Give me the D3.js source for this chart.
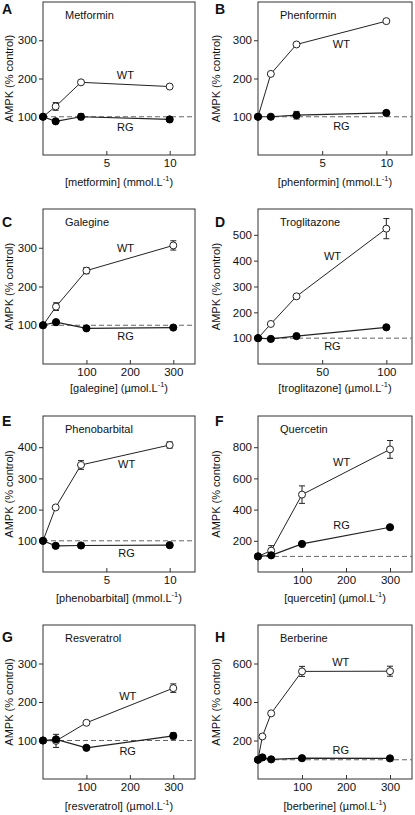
<!DOCTYPE html>
<html><head><meta charset="utf-8">
<script src="https://cdn.jsdelivr.net/npm/d3@7"></script>
<style>
body{margin:0;background:#fff}
svg{display:block}
text{font-family:"Liberation Sans",Arial,sans-serif;fill:#111}
</style>
</head><body>
<svg id="c" width="415" height="815"></svg>
<script>
// ---- data ----
const panelLetters = ["A","B","C","D","E","F","G","H"];
const drugNames = ["Metformin","Phenformin","Galegine","Troglitazone","Phenobarbital","Quercetin","Resveratrol","Berberine"];
const axisDrugs = ["metformin","phenformin","galegine","troglitazone","phenobarbital","quercetin","resveratrol","berberine"];
const doseUnits = ["mmol","mmol","µmol","µmol","mmol","µmol","µmol","µmol"];
const xMax = [12,12,350,120,12,350,350,350];
const yMax = [400,400,400,600,500,1000,400,800];
const xTickValues = [[5,10],[5,10],[100,200,300],[50,100],[5,10],[100,200,300],[100,200,300],[100,200,300]];
const yTickValues = [[100,200,300],[100,200,300],[100,200,300],[100,200,300,400,500],[100,200,300,400],[200,400,600,800],[100,200,300],[200,400,600]];

const metforminDose = [0,1,3,10];
const metforminWT = [100,127,190,179];
const metforminWTErr = [0,10,0,0];
const metforminRG = [100,88,100,93];
const metforminRGErr = [0,0,8,0];

const phenforminDose = [0,1,3,10];
const phenforminWT = [100,212,289,350];
const phenforminWTErr = [0,0,0,0];
const phenforminRG = [100,100,104,110];
const phenforminRGErr = [0,0,10,0];

const galegineDose = [0,30,100,300];
const galegineWT = [100,148,241,306];
const galegineWTErr = [0,10,8,12];
const galegineRG = [100,108,92,94];
const galegineRGErr = [0,0,0,0];

const troglitazoneDose = [0,10,30,100];
const troglitazoneWT = [100,155,262,524];
const troglitazoneWTErr = [0,0,0,39];
const troglitazoneRG = [100,97,108,142];
const troglitazoneRGErr = [0,0,0,0];

const phenobarbitalDose = [0,1,3,10];
const phenobarbitalWT = [100,207,343,407];
const phenobarbitalWTErr = [0,0,14,10];
const phenobarbitalRG = [100,84,85,86];
const phenobarbitalRGErr = [0,0,7,0];

const quercetinDose = [0,30,100,300];
const quercetinWT = [100,137,496,786];
const quercetinWTErr = [0,32,56,57];
const quercetinRG = [100,107,180,287];
const quercetinRGErr = [0,0,0,0];

const resveratrolDose = [0,30,100,300];
const resveratrolWT = [100,99,146,236];
const resveratrolWTErr = [0,17,0,11];
const resveratrolRG = [100,103,81,112];
const resveratrolRGErr = [0,0,0,8];

const berberineDose = [0,10,30,100,300];
const berberineWT = [100,221,341,559,560];
const berberineWTErr = [0,0,0,26,26];
const berberineRG = [100,112,102,108,107];
const berberineRGErr = [0,0,0,0,0];

// label anchors in data units [x, y]
const wtLabelAt = [[6.5,205],[6.5,288],[190,297],[58,415],[6.6,343],[190,700],[195,214],[188,603]];
const rgLabelAt = [[6.5,71],[6.5,74],[190,70],[58,66],[6.6,58],[190,295],[195,70],[188,145]];

const panels = [
  {dose:metforminDose, wt:metforminWT, wtErr:metforminWTErr, rg:metforminRG, rgErr:metforminRGErr},
  {dose:phenforminDose, wt:phenforminWT, wtErr:phenforminWTErr, rg:phenforminRG, rgErr:phenforminRGErr},
  {dose:galegineDose, wt:galegineWT, wtErr:galegineWTErr, rg:galegineRG, rgErr:galegineRGErr},
  {dose:troglitazoneDose, wt:troglitazoneWT, wtErr:troglitazoneWTErr, rg:troglitazoneRG, rgErr:troglitazoneRGErr},
  {dose:phenobarbitalDose, wt:phenobarbitalWT, wtErr:phenobarbitalWTErr, rg:phenobarbitalRG, rgErr:phenobarbitalRGErr},
  {dose:quercetinDose, wt:quercetinWT, wtErr:quercetinWTErr, rg:quercetinRG, rgErr:quercetinRGErr},
  {dose:resveratrolDose, wt:resveratrolWT, wtErr:resveratrolWTErr, rg:resveratrolRG, rgErr:resveratrolRGErr},
  {dose:berberineDose, wt:berberineWT, wtErr:berberineWTErr, rg:berberineRG, rgErr:berberineRGErr}
];

// ---- layout ----
const colLeft = [43, 258];
const colWidth = [152, 154];
const yLabelX = [10, 217];
const letterX = [2, 215];
const rowTop = [2, 209, 416, 625];
const rowBottom = [155, 364, 572, 779];
const xLabelOffset = [28, 25, 27, 28];
const letterOffset = [12, 18, 10, 17];

const svg = d3.select("#c");
const ink = "#222";

panels.forEach((p, i) => {
  const col = i % 2, row = Math.floor(i / 2);
  const L = colLeft[col], R = L + colWidth[col], T = rowTop[row], B = rowBottom[row];
  const x = d3.scaleLinear().domain([0, xMax[i]]).range([L, R]);
  const y = d3.scaleLinear().domain([0, yMax[i]]).range([B, T]);
  const g = svg.append("g");

  // frame
  g.append("rect").attr("x", L).attr("y", T).attr("width", R - L).attr("height", B - T)
    .attr("fill", "none").attr("stroke", "#333").attr("stroke-width", 1);

  // y axis
  const ya = g.append("g").attr("transform", `translate(${L},0)`)
    .call(d3.axisLeft(y).tickValues(yTickValues[i]).tickSize(4).tickPadding(2));
  ya.select(".domain").remove();
  ya.selectAll("line").attr("stroke", "#333");
  ya.selectAll("text").attr("font-size", 11.5).attr("fill", "#111")
    .attr("font-family", "Liberation Sans, Arial, sans-serif");

  // x axis (ticks pointing inward)
  const xa = g.append("g").attr("transform", `translate(0,${B})`)
    .call(d3.axisBottom(x).tickValues(xTickValues[i]).tickSizeInner(-4).tickSizeOuter(0).tickPadding(4));
  xa.select(".domain").remove();
  xa.selectAll("line").attr("stroke", "#333");
  xa.selectAll("text").attr("font-size", 11.5).attr("fill", "#111")
    .attr("font-family", "Liberation Sans, Arial, sans-serif");

  // x label with superscript
  const xl = g.append("text").attr("x", (L + R) / 2).attr("y", B + xLabelOffset[row])
    .attr("text-anchor", "middle").attr("dominant-baseline", "middle").attr("font-size", 11);
  xl.append("tspan").text(`[${axisDrugs[i]}] (${doseUnits[i]}.L`);
  xl.append("tspan").text("-1").attr("font-size", 7.5).attr("dy", -4);
  xl.append("tspan").text(")").attr("dy", 4);

  // y label
  g.append("text").attr("transform", `translate(${yLabelX[col]},${(T + B) / 2}) rotate(-90)`)
    .attr("text-anchor", "middle").attr("dominant-baseline", "middle").attr("font-size", 11)
    .text("AMPK (% control)");

  // panel letter
  g.append("text").attr("x", letterX[col]).attr("y", T + letterOffset[row])
    .attr("font-size", 14).attr("font-weight", "bold").text(panelLetters[i]);

  // title
  g.append("text").attr("x", L + 22).attr("y", T + 14).attr("dominant-baseline", "middle")
    .attr("font-size", 11).text(drugNames[i]);

  // dashed 100% line
  g.append("line").attr("x1", x(0)).attr("x2", x(xMax[i])).attr("y1", y(100)).attr("y2", y(100))
    .attr("stroke", "#666").attr("stroke-width", 1).attr("stroke-dasharray", "5,3");

  const line = d3.line().x(d => x(d[0])).y(d => y(d[1]));
  const wtPts = p.dose.map((d, k) => [d, p.wt[k], p.wtErr[k]]);
  const rgPts = p.dose.map((d, k) => [d, p.rg[k], p.rgErr[k]]);

  g.append("path").attr("d", line(wtPts)).attr("fill", "none").attr("stroke", ink).attr("stroke-width", 1);
  g.append("path").attr("d", line(rgPts)).attr("fill", "none").attr("stroke", ink).attr("stroke-width", 1.2);

  // error bars
  [wtPts, rgPts].forEach(pts => {
    pts.filter(d => d[2] > 0).forEach(d => {
      const cx = x(d[0]), y1 = y(d[1] + d[2]), y2 = y(d[1] - d[2]);
      g.append("line").attr("x1", cx).attr("x2", cx).attr("y1", y1).attr("y2", y2).attr("stroke", ink);
      g.append("line").attr("x1", cx - 3).attr("x2", cx + 3).attr("y1", y1).attr("y2", y1).attr("stroke", ink);
      g.append("line").attr("x1", cx - 3).attr("x2", cx + 3).attr("y1", y2).attr("y2", y2).attr("stroke", ink);
    });
  });

  g.selectAll(".wt").data(wtPts).join("circle")
    .attr("cx", d => x(d[0])).attr("cy", d => y(d[1])).attr("r", 3.5)
    .attr("fill", "#fff").attr("stroke", ink).attr("stroke-width", 1);
  g.selectAll(".rg").data(rgPts).join("circle")
    .attr("cx", d => x(d[0])).attr("cy", d => y(d[1])).attr("r", 3.6)
    .attr("fill", "#000").attr("stroke", "#000");

  // series labels
  g.append("text").attr("x", x(wtLabelAt[i][0])).attr("y", y(wtLabelAt[i][1]))
    .attr("text-anchor", "middle").attr("dominant-baseline", "middle").attr("font-size", 11).text("WT");
  g.append("text").attr("x", x(rgLabelAt[i][0])).attr("y", y(rgLabelAt[i][1]))
    .attr("text-anchor", "middle").attr("dominant-baseline", "middle").attr("font-size", 11).text("RG");
});
</script>
</body></html>
